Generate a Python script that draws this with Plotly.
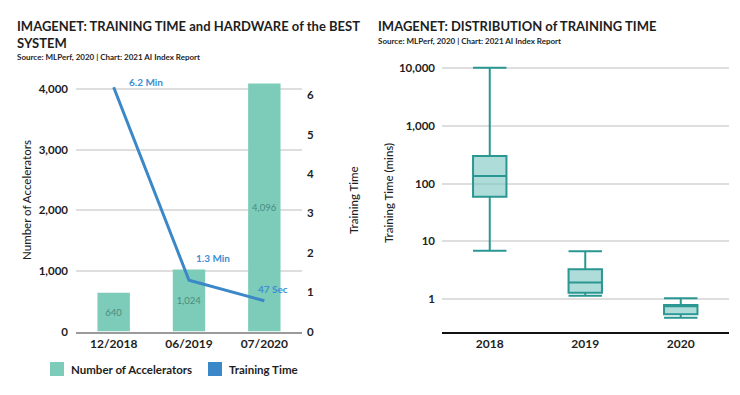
import plotly.graph_objects as go

# ---------------- data ----------------
periods = ["12/2018", "06/2019", "07/2020"]
accelerators = [640, 1024, 4096]
training_time_min = [6.2, 1.3, 0.78]
time_labels = ["6.2 Min", "1.3 Min", "47 Sec"]

years = ["2018", "2019", "2020"]
box_upper = [10000, 6.75, 1.04]
box_q3 = [298, 3.3, 0.80]
box_median = [135, 1.95, 0.76]
box_q1 = [59, 1.3, 0.55]
box_lower = [6.9, 1.15, 0.48]

log_ticks = [1, 10, 100, 1000, 10000]
log_tick_text = ["1", "10", "100", "1,000", "10,000"]

# ---------------- style ----------------
# the page body has an 8px margin, so the figure is drawn offset by (8, 8)
OX, OY = 8, 8
W, H = 740 - OX, 395 - OY
FONT = "Lato"
BAR_C = "#7dcbb9"
LINE_C = "#3b88c9"
BOX_LINE = "#2a9792"
BOX_FILL = "rgba(120,196,192,0.6)"
GRID = "#dedede"
TXT = "#1e1e1e"


def px(x):
    return (x - OX) / W


def py(y):
    return 1 - (y - OY) / H


fig = go.Figure()

fig.add_trace(go.Bar(
    x=periods, y=accelerators, name="Number of Accelerators",
    marker=dict(color=BAR_C, line=dict(width=0)),
    texttemplate="%{y:,}", textposition="inside", insidetextanchor="middle",
    textangle=0, constraintext="none",
    textfont=dict(color="#4a8c7d", size=9.5, family=FONT),
    xaxis="x", yaxis="y", showlegend=False,
))

fig.add_trace(go.Scatter(
    x=periods, y=training_time_min, name="Training Time", mode="lines",
    line=dict(color=LINE_C, width=3),
    xaxis="x", yaxis="y2", showlegend=False,
))

fig.add_trace(go.Box(
    x=years, q1=box_q1, median=box_median, q3=box_q3,
    lowerfence=box_lower, upperfence=box_upper,
    line=dict(color=BOX_LINE, width=2), fillcolor=BOX_FILL,
    whiskerwidth=1, xaxis="x3", yaxis="y3", showlegend=False,
    boxpoints=False,
))

# line value labels tied to data points
shifts = [(32, 5), (24, 22), (9, 12)]
for p, v, t, (dx, dy) in zip(periods, training_time_min, time_labels, shifts):
    fig.add_annotation(x=p, y=v, xref="x", yref="y2", text=f"<b>{t}</b>",
                       showarrow=False, xshift=dx, yshift=dy,
                       font=dict(color="#3d8fd2", size=10, family=FONT))

left_dom_x = [px(76), px(302)]
right_dom_x = [px(442), px(728.5)]

TICKFONT = dict(size=11.5, family=FONT, weight=700, color=TXT)
XTICKFONT = dict(size=12, family=FONT, weight=700, color=TXT)

fig.update_layout(
    width=W, height=H, margin=dict(l=0, r=0, t=0, b=0),
    paper_bgcolor="white", plot_bgcolor="white",
    font=dict(family=FONT, color=TXT, size=11),
    barmode="overlay", bargap=0.57, boxgap=0.5,
    showlegend=False,
    xaxis=dict(domain=left_dom_x, anchor="y", type="category",
               showgrid=False, showline=True, linecolor="#9a9a9a", linewidth=1.5,
               ticks="", tickfont=XTICKFONT, automargin=False),
    yaxis=dict(domain=[py(331.5), py(77.2)], anchor="x", range=[0, 4200],
               tickvals=[0, 1000, 2000, 3000, 4000], tickformat=",",
               showgrid=True, gridcolor=GRID, gridwidth=1.5, zeroline=False,
               ticks="", ticklabelstandoff=7, tickfont=TICKFONT, automargin=False),
    yaxis2=dict(overlaying="y", anchor="x", side="right", range=[0, 6.455],
                dtick=1, showgrid=False, zeroline=False, ticks="",
                ticklabelstandoff=4, tickfont=TICKFONT, automargin=False),
    xaxis3=dict(domain=right_dom_x, anchor="y3", type="category",
                showgrid=False, showline=True, linecolor="#111111", linewidth=2.2,
                ticks="", tickfont=XTICKFONT, automargin=False),
    yaxis3=dict(domain=[py(331.7), py(60.8)], anchor="x3", type="log",
                range=[-0.56, 4.12], tickvals=log_ticks, ticktext=log_tick_text,
                showgrid=True, gridcolor=GRID, gridwidth=1.5, zeroline=False,
                ticks="", ticklabelstandoff=6, tickfont=TICKFONT, automargin=False),
)

# titles
ann = [
    dict(x=px(15), y=py(34), text="<b>IMAGENET: TRAINING TIME and HARDWARE of the BEST<br>SYSTEM</b>",
         size=13, xanchor="left", yanchor="middle", align="left"),
    dict(x=px(15), y=py(57), text="<b>Source: MLPerf, 2020 | Chart: 2021 AI Index Report</b>",
         size=8, xanchor="left", yanchor="middle", align="left"),
    dict(x=px(376), y=py(26), text="<b>IMAGENET: DISTRIBUTION of TRAINING TIME</b>",
         size=13, xanchor="left", yanchor="middle", align="left"),
    dict(x=px(376), y=py(41), text="<b>Source: MLPerf, 2020 | Chart: 2021 AI Index Report</b>",
         size=8, xanchor="left", yanchor="middle", align="left"),
]
for a in ann:
    fig.add_annotation(xref="paper", yref="paper", x=a["x"], y=a["y"], text=a["text"],
                       showarrow=False, xanchor=a["xanchor"], yanchor=a["yanchor"],
                       align=a["align"], font=dict(size=a["size"], family=FONT, color=TXT))

# axis titles
for x, y, t in [(26, 200, "Number of Accelerators"), (353, 200, "Training Time"),
                (388, 193, "Training Time (mins)")]:
    fig.add_annotation(xref="paper", yref="paper", x=px(x), y=py(y), text=t,
                       showarrow=False, textangle=-90, xanchor="center", yanchor="middle",
                       font=dict(size=11.5, family=FONT, color=TXT, weight=500))

# legend (custom swatches)
for sx, tx, col, t in [(50, 69, BAR_C, "Number of Accelerators"), (208, 227, LINE_C, "Training Time")]:
    fig.add_shape(type="rect", xref="paper", yref="paper",
                  x0=px(sx), x1=px(sx + 14), y0=py(376), y1=py(362),
                  fillcolor=col, line=dict(width=0))
    fig.add_annotation(xref="paper", yref="paper", x=px(tx), y=py(369), text=t,
                       showarrow=False, xanchor="left", yanchor="middle",
                       font=dict(size=11.5, family=FONT, color=TXT, weight=700))

fig.write_html("out.html")
